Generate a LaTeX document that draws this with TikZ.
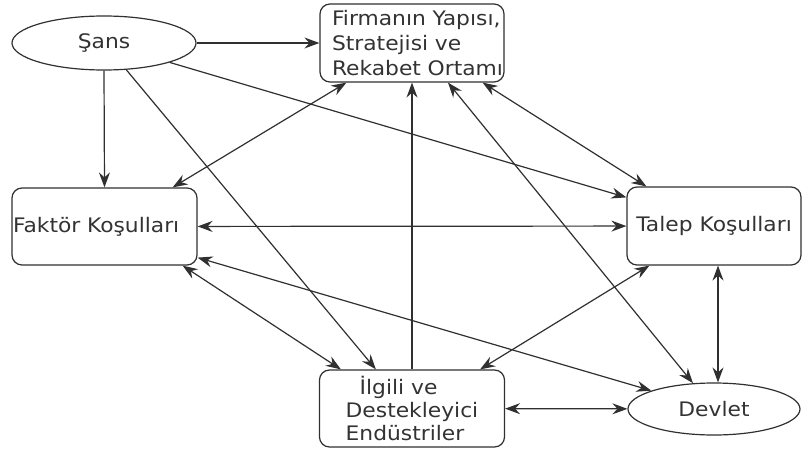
\documentclass[tikz,border=0pt]{standalone}
\usepackage{fontspec}
\setmainfont{DejaVu Sans}[FakeStretch=1.09]
\usetikzlibrary{arrows.meta,calc,shapes.geometric}
\definecolor{ln}{HTML}{303030}
\definecolor{txt}{HTML}{333333}
\begin{document}
\begin{tikzpicture}[x=1pt,y=-1pt,
  every node/.style={font=\fontsize{20}{25}\selectfont, text=txt},
  box/.style={draw=ln, line width=1.2pt, rounded corners=10pt, fill=white, inner sep=0pt},
  oval/.style={draw=ln, ellipse, line width=1.2pt, fill=white, inner sep=0pt},
  tip/.tip={Stealth[length=15pt,width=11pt,inset=5pt]},
  link/.style={draw=ln, line width=1.2pt, -tip},
  both/.style={draw=ln, line width=1.2pt, tip-tip}
]
\fill[white] (0,0) rectangle (803,452);
\useasboundingbox (0,0) rectangle (803,452);

% nodes
\node[oval, minimum width=184pt, minimum height=54pt] (sans) at (104,43) {Şans};
\node[box, minimum width=184pt, minimum height=78pt, text width=160pt, inner xsep=12pt, align=left] (top) at (412,43)
  {\mbox{Firmanın Yapısı,}\\\mbox{Stratejisi ve}\\\mbox{Rekabet Ortamı}};
\node[box, minimum height=77pt, text width=183pt, inner xsep=1pt, align=left] (fak) at (104.5,226.5) {Faktör Koşulları};
\node[box, minimum width=174pt, minimum height=78pt] (tal) at (714,226) {Talep Koşulları};
\node[box, minimum width=185pt, minimum height=77pt, align=left, font=\fontsize{20}{23}\selectfont] (ilg) at (412,408.5)
  {\hspace*{14pt}İlgili ve\\Destekleyici\\Endüstriler};
\node[oval, minimum width=172pt, minimum height=52pt] (dev) at (714,409) {Devlet};

% connectors
\draw[link] (sans) -- (top);
\draw[link] (sans.south) -- (fak.north);
\draw[link] (sans) -- ($(ilg.north west)+(57,0)$);
\draw[link] (sans) -- ($(tal.north west)+(0,11)$);
\draw[both] ($(top.south west)+(27,0)$) -- ($(fak.north east)+(-25,0)$);
\draw[link] (ilg.north) -- (top.south);
\draw[both] ($(top.south east)+(-22,0)$) -- ($(tal.north west)+(20,0)$);
\draw[both] ($(top.south)+(36,0)$) -- (dev);
\draw[both] (fak) -- (tal);
\draw[both] ($(fak.south east)+(-15,0)$) -- ($(ilg.north west)+(22,0)$);
\draw[both] ($(fak.south east)+(0,-8)$) -- (dev);
\draw[both] ($(tal.south west)+(23,0)$) -- ($(ilg.north east)+(-25,0)$);
\draw[both] ($(tal.south)+(4,0)$) -- ($(dev.north)+(4,0)$);
\draw[both] (ilg) -- (dev);
\end{tikzpicture}
\end{document}
